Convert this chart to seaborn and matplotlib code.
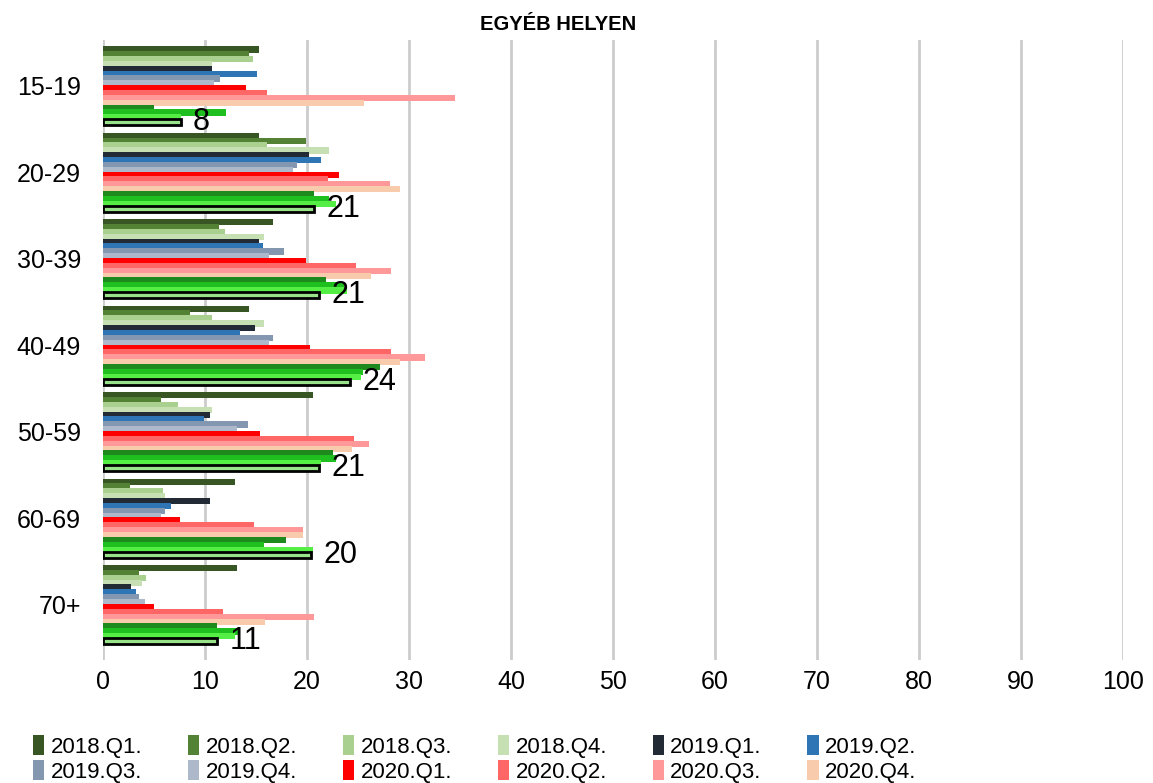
import matplotlib
matplotlib.use("Agg")
import matplotlib.pyplot as plt
import pandas as pd
import seaborn as sns

ages = ['15-19', '20-29', '30-39', '40-49', '50-59', '60-69', '70+']
quarters = ['2018.Q1.', '2018.Q2.', '2018.Q3.', '2018.Q4.',
            '2019.Q1.', '2019.Q2.', '2019.Q3.', '2019.Q4.',
            '2020.Q1.', '2020.Q2.', '2020.Q3.', '2020.Q4.',
            '2021.Q1.', '2021.Q2.', '2021.Q3.', '2021.Q4.']

# values per age group, in quarter order
v_15_19 = [15.3, 14.3, 14.7, 10.7, 10.7, 15.1, 11.5, 10.9, 14.0, 16.1, 34.5, 25.6, 5.0, 12.1, 7.6, 7.6]
v_20_29 = [15.3, 19.9, 16.1, 22.2, 20.2, 21.4, 19.0, 18.6, 23.1, 22.1, 28.1, 29.1, 20.7, 22.2, 22.8, 20.7]
v_30_39 = [16.7, 11.4, 12.0, 15.8, 15.3, 15.7, 17.7, 16.3, 19.9, 24.8, 28.2, 26.3, 21.9, 23.6, 23.9, 21.2]
v_40_49 = [14.3, 8.5, 10.7, 15.8, 14.9, 13.4, 16.7, 16.3, 20.3, 28.2, 31.6, 29.1, 27.2, 25.5, 25.3, 24.2]
v_50_59 = [20.6, 5.7, 7.4, 10.7, 10.5, 9.9, 14.2, 13.1, 15.4, 24.6, 26.1, 24.4, 22.5, 22.8, 21.4, 21.2]
v_60_69 = [12.9, 2.6, 5.9, 6.1, 10.5, 6.7, 6.1, 5.7, 7.5, 14.8, 19.6, 19.6, 17.9, 15.8, 20.6, 20.4]
v_70 = [13.1, 3.5, 4.2, 3.8, 2.7, 3.2, 3.5, 4.1, 5.0, 11.8, 20.7, 15.9, 11.2, 13.4, 12.9, 11.2]

colors = ['#375623', '#548235', '#a9d08e', '#c6e0b4',
          '#222b35', '#2e75b6', '#8497b0', '#adb9ca',
          '#ff0000', '#ff6666', '#ff9999', '#f8cbad',
          '#1e8a1e', '#1fbf1f', '#55ee44', '#98e38a']

groups = [v_15_19, v_20_29, v_30_39, v_40_49, v_50_59, v_60_69, v_70]
rows = []
for age, vals in zip(ages, groups):
    for q, v in zip(quarters, vals):
        rows.append({'age': age, 'quarter': q, 'value': v})
df = pd.DataFrame(rows)

sns.set_style('white')
plt.rcParams['font.family'] = ['Liberation Sans', 'DejaVu Sans']
plt.rcParams['text.color'] = 'black'

fig = plt.figure(figsize=(11.53, 7.83), dpi=100)
ax = fig.add_axes([103 / 1153, 1 - 660 / 783, 1020 / 1153, 620 / 783])

sns.barplot(data=df, y='age', x='value', hue='quarter', order=ages,
            hue_order=quarters, palette=colors, orient='h', width=0.9,
            saturation=1, errorbar=None, ax=ax, legend=True, linewidth=0)

# thicker bars, slightly overlapping like the original
for cont in ax.containers:
    for p in cont:
        h = p.get_height()
        p.set_y(p.get_y() - h * 0.15)
        p.set_height(h * 1.3)

# last series: outlined bars with labels
last = ax.containers[-1]
for p in last:
    p.set_edgecolor('black')
    p.set_linewidth(2)
ax.bar_label(last, labels=[f'{v:.0f}' for v in df[df.quarter == quarters[-1]]['value']],
             padding=9, fontsize=22, color='black')

ax.set_xlim(0, 100)
ax.set_ylim(6.64, -0.53)
ax.set_xticks(range(0, 101, 10))
ax.xaxis.grid(True, color='#cccccc', linewidth=2)
ax.set_axisbelow(True)
ax.tick_params(axis='both', length=0, labelsize=18, labelcolor='black')
ax.tick_params(axis='x', pad=7)
ax.tick_params(axis='y', pad=16)
ax.set_xlabel('')
ax.set_ylabel('')
for s in ax.spines.values():
    s.set_visible(False)

handles, labels = ax.get_legend_handles_labels()
ax.get_legend().remove()
# fill legend row by row (matplotlib fills columns first)
order = [i + r * 6 for i in range(6) for r in range(2)]
fig.legend([handles[i] for i in order], [labels[i] for i in order],
           loc='lower left', ncol=6, bbox_to_anchor=(22 / 1153, -0.014),
           borderaxespad=0.1, frameon=False, fontsize=16, handlelength=0.5,
           handleheight=1.0, handletextpad=0.3, columnspacing=2.05,
           labelspacing=0.12)

fig.text(558 / 1153, 1 - 25 / 783, 'EGYÉB HELYEN', ha='center', va='center',
         fontsize=14.5, fontweight='bold')

plt.savefig('out.png', dpi=100)
